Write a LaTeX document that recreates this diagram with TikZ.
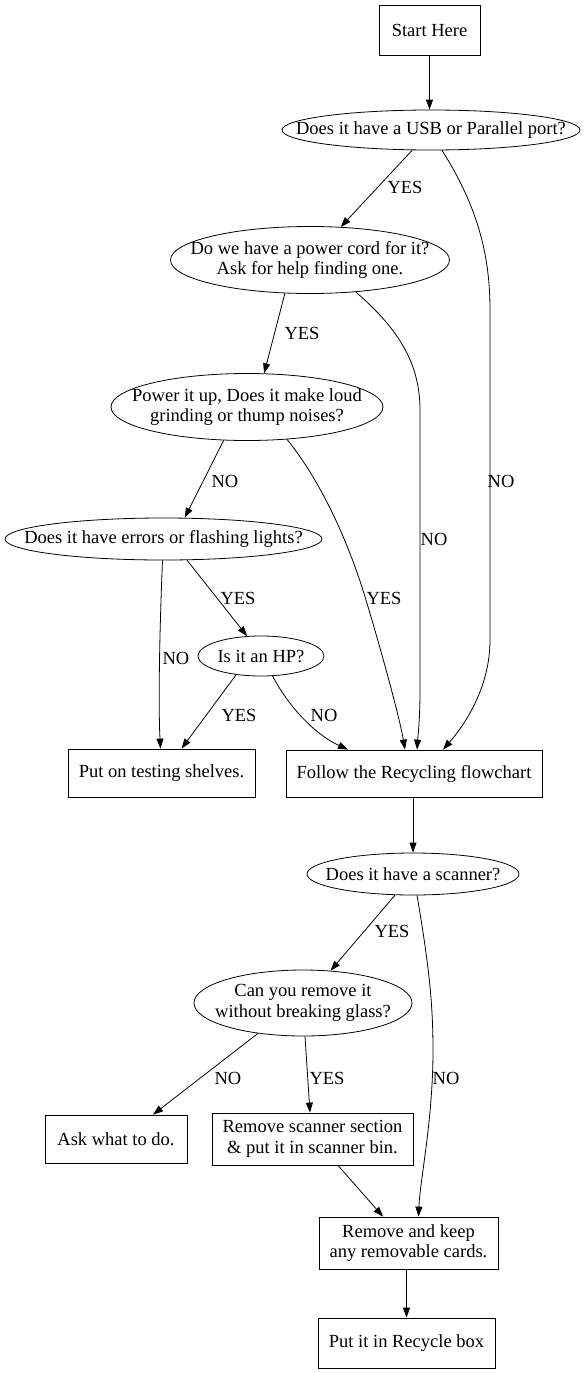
\documentclass[tikz,border=0pt]{standalone}
\usepackage{fontspec}
\setmainfont{Liberation Serif}
\usetikzlibrary{shapes.geometric,arrows.meta}
\begin{document}
\begin{tikzpicture}[x=1pt,y=-1pt,
  every node/.style={font=\fontsize{18.5}{20.5}\selectfont},
  box/.style={draw,line width=0.8pt,rectangle,inner sep=0pt,align=center},
  oval/.style={draw,line width=0.8pt,ellipse,inner sep=0pt},
  lbl/.style={inner sep=0pt},
  conn/.style={line width=0.8pt,-{Triangle[length=10pt,width=7pt]}}]
\fill[white] (0,0) rectangle (588,1373);
\useasboundingbox (0,0) rectangle (588,1373);

% nodes
\node[box,minimum width=101pt,minimum height=50pt] (start) at (429.5,30) {Start Here};
\node[oval,minimum width=298pt,minimum height=40pt,label={[align=center]center:Does it have a USB or Parallel port?}] (usb) at (431,130) {};
\node[oval,minimum width=279pt,minimum height=67pt,label={[align=center]center:Do we have a power cord for it?\\Ask for help finding one.}] (power) at (310,260) {};
\node[oval,minimum width=272pt,minimum height=67pt,label={[align=center]center:Power it up, Does it make loud\\grinding or thump noises?}] (powerup) at (247,407) {};
\node[oval,minimum width=317pt,minimum height=42pt,label={[align=center]center:Does it have errors or flashing lights?}] (errors) at (163.5,539) {};
\node[oval,minimum width=126pt,minimum height=40pt,label={[align=center]center:Is it an HP?}] (hp) at (261,656) {};
\node[box,minimum width=187pt,minimum height=48pt] (testing) at (161.5,773) {Put on testing shelves.};
\node[box,minimum width=256pt,minimum height=47pt] (follow) at (414,773.5) {Follow the Recycling flowchart};
\node[oval,minimum width=212pt,minimum height=42pt,label={[align=center]center:Does it have a scanner?}] (scanner) at (413,874) {};
\node[oval,minimum width=218pt,minimum height=66pt,label={[align=center]center:Can you remove it\\without breaking glass?}] (canremove) at (303,1003) {};
\node[box,minimum width=142pt,minimum height=48pt] (ask) at (116,1139) {Ask what to do.};
\node[box,minimum width=201pt,minimum height=52pt] (remscan) at (312.5,1139) {Remove scanner section\\\& put it in scanner bin.};
\node[box,minimum width=179pt,minimum height=52pt] (remkeep) at (408.5,1243) {Remove and keep\\any removable cards.};
\node[box,minimum width=177pt,minimum height=50pt] (recycle) at (406.5,1343) {Put it in Recycle box};

% connectors
\draw[conn] (start.south) -- (start.south |- usb.north);
\draw[conn] (usb) -- (power);
\draw[conn] ([xshift=11pt]usb.south) .. controls (480,210) and (490,260) .. (490,310)
  -- (490,640) .. controls (490,690) and (462,728) .. ([xshift=29pt]follow.north);
\draw[conn] (power.233) -- (powerup.63);
\draw[conn] (power.325) .. controls (400,330) and (420,365) .. (420,410)
  -- (420,690) .. controls (420,720) and (418,735) .. ([xshift=3pt]follow.north);
\draw[conn] (powerup.235) -- (errors.45);
\draw[conn] (powerup.321) .. controls (320,480) and (348,540) .. (366,600)
  .. controls (384,660) and (400,720) .. ([xshift=-9pt]follow.north);
\draw[conn] ([xshift=-1pt]errors.south) .. controls (160,620) and (158,700) .. ([xshift=-1pt]testing.north);
\draw[conn] (errors.318) -- (hp.125);
\draw[conn] (hp.217) -- ([xshift=20pt]testing.north);
\draw[conn] (hp.300) .. controls (285,700) and (310,732) .. ([xshift=-66pt]follow.north);
\draw[conn] (follow.south -| scanner.north) -- (scanner.north);
\draw[conn] (scanner) -- (canremove);
\draw[conn] ([xshift=4pt]scanner.south) .. controls (428,960) and (433,1000) .. (433,1050)
  .. controls (433,1120) and (420,1180) .. ([xshift=10pt]remkeep.north);
\draw[conn] (canremove.214) -- ([xshift=37pt]ask.north);
\draw[conn] ([xshift=2pt]canremove.south) -- ([xshift=-2.5pt]remscan.north);
\draw[conn] ([xshift=25.5pt]remscan.south) -- ([xshift=-25.5pt]remkeep.north);
\draw[conn] (remkeep.south -| recycle.north) -- (recycle.north);

% labels
\node[lbl] (l1) at (405,187) {YES};
\node[lbl] (l2) at (501,481) {NO};
\node[lbl] (l3) at (302,333) {YES};
\node[lbl] (l4) at (434,539) {NO};
\node[lbl] (l5) at (225,481) {NO};
\node[lbl] (l6) at (384,598) {YES};
\node[lbl] (l7) at (176,658) {NO};
\node[lbl] (l8) at (238,598) {YES};
\node[lbl] (l9) at (239,715) {YES};
\node[lbl] (l10) at (324,715) {NO};
\node[lbl] (l11) at (392,931) {YES};
\node[lbl] (l12) at (446,1078) {NO};
\node[lbl] (l13) at (228,1078) {NO};
\node[lbl] (l14) at (327,1078) {YES};
\end{tikzpicture}
\end{document}
